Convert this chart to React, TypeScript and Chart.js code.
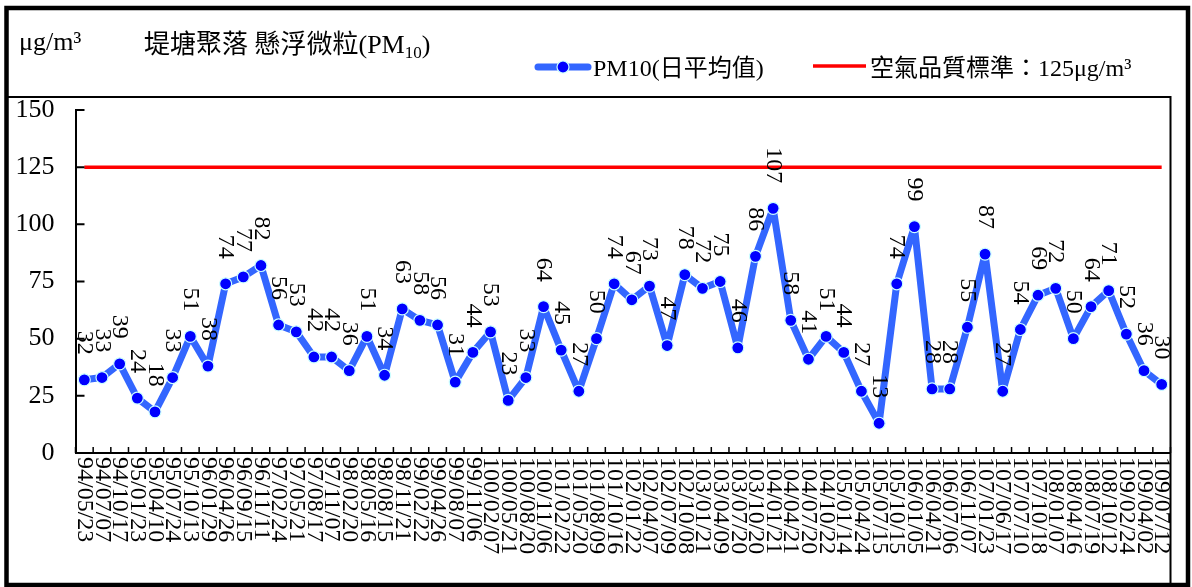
import { useEffect, useRef } from "react";
import { Chart, registerables } from "chart.js";

Chart.register(...registerables);

const SERIF = "'Liberation Serif', 'Times New Roman', 'Noto Sans CJK TC', serif";

const DATES = [
  "94/05/23", "94/07/07", "94/10/17", "95/01/23", "95/04/10", "95/07/24", "95/10/13", "96/01/29",
  "96/04/26", "96/09/15", "96/11/11", "97/02/24", "97/05/21", "97/08/17", "97/11/07", "98/02/20",
  "98/05/16", "98/08/15", "98/11/21", "99/02/22", "99/04/26", "99/08/07", "99/11/06", "100/02/07",
  "100/05/21", "100/08/20", "100/11/06", "101/02/22", "101/05/20", "101/08/09", "101/10/16", "102/01/22",
  "102/04/07", "102/07/09", "102/10/08", "103/01/21", "103/04/09", "103/07/20", "103/10/20", "104/01/21",
  "104/04/21", "104/07/20", "104/10/22", "105/01/14", "105/04/24", "105/07/15", "105/10/15", "106/01/05",
  "106/04/21", "106/07/06", "106/11/07", "107/01/23", "107/06/17", "107/07/10", "107/10/18", "108/01/07",
  "108/04/16", "108/07/19", "108/10/12", "109/02/24", "109/04/02", "109/07/12",
];

const PM10 = [
  32, 33, 39, 24, 18, 33, 51, 38, 74, 77,
  82, 56, 53, 42, 42, 36, 51, 34, 63, 58,
  56, 31, 44, 53, 23, 33, 64, 45, 27, 50,
  74, 67, 73, 47, 78, 72, 75, 46, 86, 107,
  58, 41, 51, 44, 27, 13, 74, 99, 28, 28,
  55, 87, 27, 54, 69, 72, 50, 64, 71, 52,
  36, 30,
];

const STANDARD = [
  125, 125, 125, 125, 125, 125, 125, 125, 125, 125,
  125, 125, 125, 125, 125, 125, 125, 125, 125, 125,
  125, 125, 125, 125, 125, 125, 125, 125, 125, 125,
  125, 125, 125, 125, 125, 125, 125, 125, 125, 125,
  125, 125, 125, 125, 125, 125, 125, 125, 125, 125,
  125, 125, 125, 125, 125, 125, 125, 125, 125, 125,
  125, 125,
];

const Y_MIN = 0;
const Y_MAX = 150;
const Y_STEP = 25;

const UNIT = "μg/m³";
const TITLE_MAIN = "堤塘聚落 懸浮微粒(PM";
const TITLE_SUB = "10";
const TITLE_END = ")";
const LEGEND_PM = "PM10(日平均值)";
const LEGEND_STD = "空氣品質標準：125μg/m³";

const LINE_BLUE = "#3366FF";
const POINT_BLUE = "#0000FF";
const POINT_EDGE = "#CCFFFF";
const STD_RED = "#FF0000";

export default function App() {
  const ref = useRef<HTMLCanvasElement>(null);

  useEffect(() => {
    const canvas = ref.current;
    if (!canvas) return;

    const decor = {
      id: "decor",
      afterDatasetsDraw(chart: any) {
        const ctx = chart.ctx;
        const meta = chart.getDatasetMeta(0);
        ctx.save();
        ctx.fillStyle = "#000";
        ctx.font = `24px ${SERIF}`;
        ctx.textAlign = "right";
        ctx.textBaseline = "middle";
        meta.data.forEach((pt: any, i: number) => {
          ctx.save();
          ctx.translate(pt.x, pt.y - 25);
          ctx.rotate(Math.PI / 2);
          ctx.fillText(String(PM10[i]), 0, 0);
          ctx.restore();
        });
        ctx.restore();
      },
      afterDraw(chart: any) {
        const ctx = chart.ctx;
        const area = chart.chartArea;
        const xs = chart.scales.x;
        const ys = chart.scales.y;
        ctx.save();

        // outer frame
        ctx.strokeStyle = "#000";
        ctx.lineWidth = 4.5;
        ctx.strokeRect(6.5, 8, 1181.5, 577);

        // inner plot frame
        ctx.lineWidth = 2;
        ctx.beginPath();
        ctx.moveTo(8, 97);
        ctx.lineTo(area.right, 97);
        ctx.lineTo(area.right, 585);
        ctx.stroke();

        // y ticks (inward)
        ctx.lineWidth = 2;
        ctx.beginPath();
        for (let v = Y_MIN; v <= Y_MAX; v += Y_STEP) {
          const y = ys.getPixelForValue(v);
          ctx.moveTo(area.left, y);
          ctx.lineTo(area.left + 9, y);
        }
        ctx.stroke();

        // x ticks (inward, between categories)
        const n = DATES.length;
        const half = (xs.getPixelForValue(1) - xs.getPixelForValue(0)) / 2;
        ctx.lineWidth = 1.5;
        ctx.beginPath();
        for (let i = 0; i <= n; i++) {
          const x = i < n ? xs.getPixelForValue(i) - half : xs.getPixelForValue(n - 1) + half;
          ctx.moveTo(x, area.bottom);
          ctx.lineTo(x, area.bottom - 6);
        }
        ctx.stroke();

        // x labels rotated clockwise
        ctx.fillStyle = "#000";
        ctx.font = `24px ${SERIF}`;
        ctx.textAlign = "left";
        ctx.textBaseline = "middle";
        DATES.forEach((d, i) => {
          const x = xs.getPixelForValue(i);
          ctx.save();
          ctx.translate(x, area.bottom + 4);
          ctx.rotate(Math.PI / 2);
          ctx.fillText(d, 0, 0);
          ctx.restore();
        });

        // unit + title
        ctx.textAlign = "left";
        ctx.textBaseline = "alphabetic";
        ctx.font = `26px ${SERIF}`;
        ctx.fillText(UNIT, 19, 50);
        let tx = 144;
        ctx.fillText(TITLE_MAIN, tx, 53);
        tx += ctx.measureText(TITLE_MAIN).width;
        ctx.font = `17px ${SERIF}`;
        ctx.fillText(TITLE_SUB, tx, 58);
        tx += ctx.measureText(TITLE_SUB).width;
        ctx.font = `26px ${SERIF}`;
        ctx.fillText(TITLE_END, tx, 53);

        // legend: PM10
        ctx.lineCap = "round";
        ctx.strokeStyle = LINE_BLUE;
        ctx.lineWidth = 7;
        ctx.beginPath();
        ctx.moveTo(538, 67);
        ctx.lineTo(588, 67);
        ctx.stroke();
        ctx.beginPath();
        ctx.arc(563, 67, 6, 0, Math.PI * 2);
        ctx.fillStyle = POINT_BLUE;
        ctx.fill();
        ctx.lineWidth = 1.2;
        ctx.strokeStyle = POINT_EDGE;
        ctx.stroke();
        ctx.fillStyle = "#000";
        ctx.textBaseline = "middle";
        ctx.font = `24px ${SERIF}`;
        ctx.fillText(LEGEND_PM, 593, 70);

        // legend: standard
        ctx.lineCap = "butt";
        ctx.strokeStyle = STD_RED;
        ctx.lineWidth = 3.5;
        ctx.beginPath();
        ctx.moveTo(813, 66);
        ctx.lineTo(866, 66);
        ctx.stroke();
        ctx.fillText(LEGEND_STD, 870, 70);

        ctx.restore();
      },
    };

    const chart = new Chart(canvas, {
      type: "line",
      data: {
        labels: DATES,
        datasets: [
          {
            label: LEGEND_PM,
            data: PM10,
            borderColor: LINE_BLUE,
            borderWidth: 7,
            borderJoinStyle: "round",
            borderCapStyle: "round",
            pointRadius: 6,
            pointBackgroundColor: POINT_BLUE,
            pointBorderColor: POINT_EDGE,
            pointBorderWidth: 1.2,
            tension: 0,
            order: 1,
          },
          {
            label: LEGEND_STD,
            data: STANDARD,
            borderColor: STD_RED,
            borderWidth: 3.5,
            pointRadius: 0,
            tension: 0,
            order: 2,
          },
        ],
      },
      options: {
        animation: false,
        responsive: true,
        maintainAspectRatio: false,
        events: [],
        layout: { padding: { top: 110, right: 21.5, left: 0, bottom: 0 } },
        plugins: {
          legend: { display: false },
          tooltip: { enabled: false },
          title: { display: false },
        },
        scales: {
          x: {
            type: "category",
            offset: true,
            grid: { display: false },
            border: { display: true, color: "#000", width: 2 },
            ticks: { display: false },
            afterFit: (s: any) => {
              s.height = 134;
            },
          },
          y: {
            min: Y_MIN,
            max: Y_MAX,
            grid: { display: false },
            border: { display: true, color: "#000", width: 2 },
            ticks: {
              stepSize: Y_STEP,
              color: "#000",
              padding: 13,
              font: { family: SERIF, size: 26 },
            },
            afterFit: (s: any) => {
              s.width = 75.5;
            },
          },
        },
      },
      plugins: [decor],
    });

    return () => chart.destroy();
  }, []);

  return (
    <div style={{ position: "fixed", left: 0, top: 0, width: 1192, height: 587, background: "#fff" }}>
      <canvas ref={ref} />
    </div>
  );
}
